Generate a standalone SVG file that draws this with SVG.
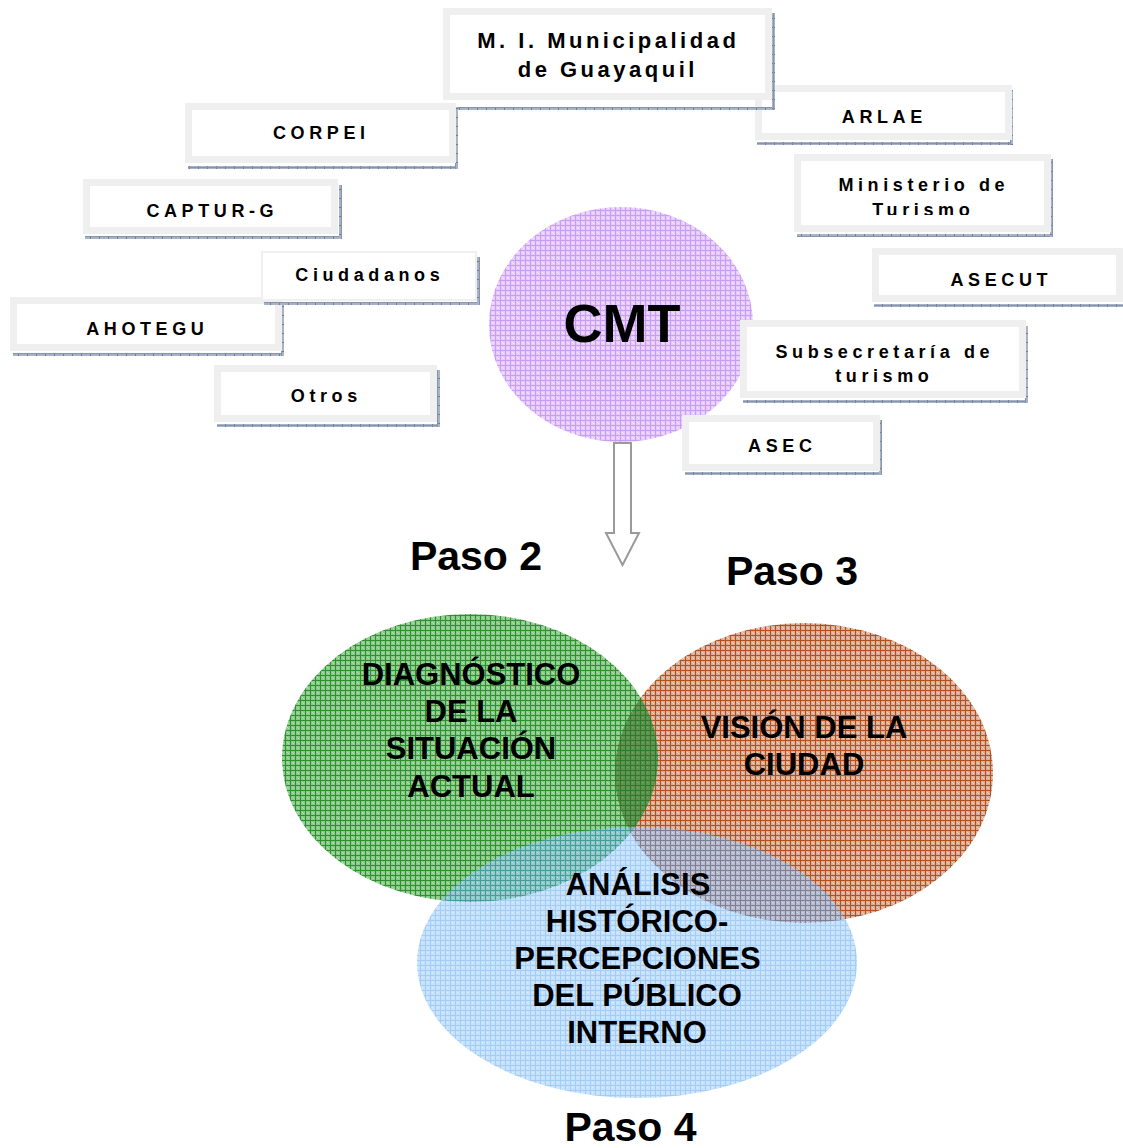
<svg xmlns="http://www.w3.org/2000/svg" width="1123" height="1148" viewBox="0 0 1123 1148">
<style>
.bo{fill:#efefef}
.bi{fill:#ffffff}
.sh{fill:url(#pSh)}
.sv{fill:url(#pShV)}
.t{font-family:"Liberation Sans",Arial,sans-serif;font-weight:bold;font-size:18px;letter-spacing:4.6px;text-anchor:middle;fill:#000}
.tm{font-family:"Liberation Sans",Arial,sans-serif;font-weight:bold;font-size:22px;letter-spacing:3.5px;text-anchor:middle;fill:#000}
.tv{font-family:"Liberation Sans",Arial,sans-serif;font-weight:bold;font-size:31px;text-anchor:middle;fill:#000}
.tp{font-family:"Liberation Sans",Arial,sans-serif;font-weight:bold;font-size:41px;text-anchor:middle;fill:#000}
.tc{font-family:"Liberation Sans",Arial,sans-serif;font-weight:bold;font-size:54px;text-anchor:middle;fill:#000}
</style>
<defs>
<pattern id="pSh" width="9" height="3" patternUnits="userSpaceOnUse">
<rect width="9" height="3" fill="#a9b3c6"/><rect width="1" height="3" fill="#6f7d96"/><rect y="2" width="9" height="1" fill="#8793aa"/>
</pattern>
<pattern id="pShV" width="3" height="9" patternUnits="userSpaceOnUse">
<rect width="3" height="9" fill="#a9b3c6"/><rect width="3" height="1" fill="#6f7d96"/><rect x="2" width="1" height="9" fill="#8793aa"/>
</pattern>
<pattern id="pPurple" width="5" height="5" patternUnits="userSpaceOnUse">
<rect width="5" height="5" fill="#e6cbff"/><rect width="5" height="1" fill="#c99ef2"/><rect width="1" height="5" fill="#c99ef2"/><rect x="2" y="2" width="1" height="1" fill="#f4e8ff"/><rect x="3" y="3" width="1" height="1" fill="#f4e8ff"/>
</pattern>
<pattern id="pGreen" width="5" height="5" patternUnits="userSpaceOnUse">
<rect width="5" height="5" fill="#8aca8a"/><rect width="5" height="1" fill="#2f8f2f"/><rect width="1" height="5" fill="#2f8f2f"/><rect x="2" y="2" width="1" height="1" fill="#b4dcb4"/><rect x="3" y="3" width="1" height="1" fill="#b4dcb4"/>
</pattern>
<pattern id="pLens" width="5" height="5" patternUnits="userSpaceOnUse">
<rect width="5" height="5" fill="#5f9450"/><rect width="5" height="1" fill="#2f7a2a"/><rect width="1" height="5" fill="#2f7a2a"/><rect x="2" y="2" width="1" height="1" fill="#7fa56a"/>
</pattern>
<pattern id="pRed" width="5" height="5" patternUnits="userSpaceOnUse">
<rect width="5" height="5" fill="#dbac96"/><rect width="5" height="1" fill="#b3501f"/><rect width="1" height="5" fill="#b3501f"/><rect x="2" y="2" width="1" height="1" fill="#efd2c4"/><rect x="3" y="3" width="1" height="1" fill="#efd2c4"/>
</pattern>
<pattern id="pBlue" width="5" height="5" patternUnits="userSpaceOnUse">
<rect width="5" height="5" fill="#97caff"/><rect width="5" height="1" fill="#5aa4ee"/><rect width="1" height="5" fill="#5aa4ee"/><rect x="2" y="2" width="1" height="1" fill="#c8e4ff"/>
</pattern>
<clipPath id="clipMin"><rect x="794" y="154" width="257" height="61"/></clipPath>
<clipPath id="clipGreen"><ellipse cx="470" cy="758" rx="188" ry="144"/></clipPath>
</defs>
<rect width="1123" height="1148" fill="#ffffff"/>

<g id="n-arlae">
<rect class="sh" x="757" y="142" width="256" height="3"/>
<rect class="sv" x="1010" y="90" width="3" height="55"/>
<rect class="bo" x="755" y="85" width="257" height="55"/>
<rect class="bi" x="762" y="92" width="243" height="41"/>
<text class="t" x="884.3" y="123">ARLAE</text>
</g>
<g id="n-municipalidad">
<rect class="sh" x="446" y="107" width="329" height="3"/>
<rect class="sv" x="772" y="13" width="3" height="97"/>
<rect class="bo" x="443" y="8" width="329" height="92"/>
<rect class="bi" x="450" y="15" width="315" height="78"/>
<text class="tm" x="608.3" y="48">M. I. Municipalidad</text>
<text class="tm" x="607.8" y="77">de Guayaquil</text>
</g>
<g id="n-corpei">
<rect class="sh" x="188" y="166" width="270" height="3"/>
<rect class="sv" x="455" y="107" width="3" height="62"/>
<rect class="bo" x="185" y="103" width="271" height="60"/>
<rect class="bi" x="192" y="110" width="257" height="46"/>
<text class="t" x="321.3" y="139">CORPEI</text>
</g>
<g id="n-captur">
<rect class="sh" x="85" y="236" width="257" height="3"/>
<rect class="sv" x="339" y="185" width="3" height="54"/>
<rect class="bo" x="83" y="179" width="255" height="55"/>
<rect class="bi" x="90" y="186" width="241" height="41"/>
<text class="t" x="212.3" y="217">CAPTUR-G</text>
</g>
<g id="n-ahotegu">
<rect class="sh" x="13" y="353" width="271" height="3"/>
<rect class="sv" x="281" y="303" width="3" height="53"/>
<rect class="bo" x="10" y="297" width="272" height="54"/>
<rect class="bi" x="17" y="304" width="258" height="40"/>
<text class="t" x="147.3" y="335">AHOTEGU</text>
</g>
<g id="n-ciudadanos">
<rect class="sh" x="264" y="302" width="216" height="3"/>
<rect class="sv" x="477" y="257" width="3" height="48"/>
<rect class="bo" x="261" y="251" width="216" height="50"/>
<rect class="bi" x="263" y="253" width="212" height="46"/>
<text class="t" x="369.8" y="281">Ciudadanos</text>
</g>
<g id="n-otros">
<rect class="sh" x="217" y="424" width="223" height="3"/>
<rect class="sv" x="437" y="370" width="3" height="57"/>
<rect class="bo" x="214" y="365" width="223" height="57"/>
<rect class="bi" x="221" y="372" width="209" height="43"/>
<text class="t" x="326.3" y="402">Otros</text>
</g>

<g id="n-cmt">
<ellipse cx="621" cy="324.5" rx="132" ry="117.5" fill="url(#pPurple)"/>
<text class="tc" x="622" y="342">CMT</text>
</g>

<g id="n-ministerio">
<rect class="sh" x="797" y="234" width="256" height="3"/>
<rect class="sv" x="1050" y="159" width="3" height="78"/>
<rect class="bo" x="794" y="154" width="257" height="78"/>
<rect class="bi" x="801" y="161" width="243" height="64"/>
<g clip-path="url(#clipMin)">
<text class="t" x="923.8" y="191">Ministerio de</text>
<text class="t" x="923.3" y="216">Turismo</text>
</g>
</g>
<g id="n-asecut">
<rect class="sh" x="874" y="304" width="249" height="3"/>
<rect class="bo" x="872" y="248" width="251" height="54"/>
<rect class="bi" x="879" y="255" width="237" height="40"/>
<text class="t" x="1001.3" y="286">ASECUT</text>
</g>
<g id="n-subsecretaria">
<rect class="sh" x="743" y="400" width="285" height="3"/>
<rect class="sv" x="1025" y="326" width="3" height="77"/>
<rect class="bo" x="740" y="320" width="286" height="78"/>
<rect class="bi" x="747" y="327" width="272" height="64"/>
<text class="t" x="884.8" y="358">Subsecretaría de</text>
<text class="t" x="884.3" y="382">turismo</text>
</g>
<g id="n-asec">
<rect class="sh" x="685" y="472" width="197" height="3"/>
<rect class="sv" x="879" y="420" width="3" height="55"/>
<rect class="bo" x="682" y="415" width="198" height="56"/>
<rect class="bi" x="689" y="422" width="184" height="42"/>
<text class="t" x="782.3" y="452">ASEC</text>
</g>

<g id="connectors">
<path d="M614,443 H631 V533 H639 L622.5,565 L606,533 H614 Z" fill="#ffffff" stroke="#9a9a9a" stroke-width="2" stroke-linejoin="miter"/>
</g>

<g id="n-paso2"><text class="tp" x="476" y="570">Paso 2</text></g>
<g id="n-paso3"><text class="tp" x="792" y="585">Paso 3</text></g>

<g id="n-vision">
<ellipse cx="804" cy="773" rx="189" ry="150" fill="url(#pRed)"/>
</g>
<g id="n-diagnostico">
<ellipse cx="470" cy="758" rx="188" ry="144" fill="url(#pGreen)"/>
<ellipse cx="804" cy="773" rx="189" ry="150" fill="url(#pLens)" clip-path="url(#clipGreen)"/>
</g>
<g id="n-analisis">
<ellipse cx="637" cy="962.5" rx="220" ry="135.5" fill="url(#pBlue)" opacity="0.55"/>
</g>
<g id="venn-labels">
<text class="tv" x="471" y="685">DIAGNÓSTICO</text>
<text class="tv" x="471" y="722">DE LA</text>
<text class="tv" x="471" y="759">SITUACIÓN</text>
<text class="tv" x="471" y="797">ACTUAL</text>
<text class="tv" x="804" y="738">VISIÓN DE LA</text>
<text class="tv" x="804" y="775">CIUDAD</text>
<text class="tv" x="638" y="895">ANÁLISIS</text>
<text class="tv" x="637" y="932">HISTÓRICO-</text>
<text class="tv" x="637.5" y="969">PERCEPCIONES</text>
<text class="tv" x="637" y="1006">DEL PÚBLICO</text>
<text class="tv" x="637" y="1043">INTERNO</text>
</g>
<g id="n-paso4"><text class="tp" x="630.5" y="1141">Paso 4</text></g>
</svg>
